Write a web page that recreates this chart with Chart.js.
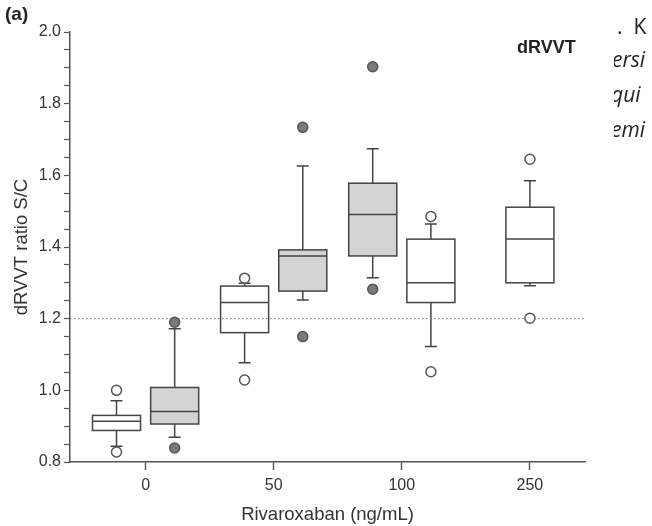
<!DOCTYPE html>
<html>
<head>
<meta charset="utf-8">
<script src="https://cdn.jsdelivr.net/npm/chart.js@4/dist/chart.umd.min.js"></script>
<style>
  body { margin: 0; background: #fff; }
  #wrap { position: relative; width: 652px; height: 526px; }
  #chart { position: absolute; left: 0; top: 0; }
  .lbl { position: absolute; font-family: "Liberation Sans", Arial, sans-serif; font-weight: bold; color: #222; white-space: nowrap; }
  #side { position: absolute; left: 614px; top: 0; width: 38px; height: 160px; overflow: hidden; font-family: "Open Sans", sans-serif; color: #222; }
  #side div { position: absolute; white-space: nowrap; font-size: 21px; }
</style>
</head>
<body>
<div id="wrap">
  <canvas id="chart" width="652" height="526"></canvas>
  <div class="lbl" style="left:5px;top:3px;font-size:19px;">(a)</div>
  <div class="lbl" style="left:517px;top:37px;font-size:18px;">dRVVT</div>
  <div id="side">
    <div style="left:3px;top:12px;">.&nbsp; K</div>
    <div style="left:-2px;top:45px;font-style:italic;">ersi</div>
    <div style="left:-3px;top:80px;font-style:italic;">qui</div>
    <div style="left:-3px;top:115px;font-style:italic;">emi</div>
  </div>
</div>
<script>
// rivaroxaban concentration groups (ng/mL)
const categories = ['0', '50', '100', '250'];

// open boxes: [lower whisker, Q1, median, Q3, upper whisker]
const openBoxes = [
  [0.844, 0.888, 0.914, 0.930, 0.971],
  [1.077, 1.161, 1.245, 1.291, 1.299],
  [1.122, 1.245, 1.300, 1.422, 1.464],
  [1.292, 1.300, 1.422, 1.511, 1.585]
];
const openOutliers = [
  [0.828, 1.000],
  [1.029, 1.313],
  [1.052, 1.485],
  [1.201, 1.645]
];

// grey boxes (no 250 group)
const greyBoxes = [
  [0.869, 0.906, 0.941, 1.008, 1.172],
  [1.252, 1.277, 1.375, 1.392, 1.626],
  [1.314, 1.375, 1.491, 1.578, 1.674]
];
const greyOutliers = [
  [0.839, 1.190],
  [1.150, 1.734],
  [1.282, 1.903]
];

const refLine = 1.2;

// layout: which side of the tick each box sits on
const openSlot = [-1, -1, 1, 0];
const greySlot = [1, 1, -1];
const slotShift = 0.227;
const boxWidth = 0.375;
const xMin = -0.59, xMax = 3.43;

function outlierPoints(list, slots) {
  const pts = [];
  list.forEach((vals, i) => {
    vals.forEach(v => pts.push({ x: i + slots[i] * slotShift, y: v }));
  });
  return pts;
}

const boxPlugin = {
  id: 'boxes',
  beforeDatasetsDraw(chart) {
    const { ctx, scales: { x, y } } = chart;
    const half = (x.getPixelForValue(boxWidth) - x.getPixelForValue(0)) / 2;
    const cap = 6;
    const drawSet = (stats, slots, fill) => {
      stats.forEach((s, i) => {
        const cx = x.getPixelForValue(i + slots[i] * slotShift);
        const [lo, q1, med, q3, hi] = s.map(v => y.getPixelForValue(v));
        ctx.save();
        ctx.strokeStyle = '#444';
        ctx.lineWidth = 1.5;
        // whiskers
        ctx.beginPath();
        ctx.moveTo(cx, q3); ctx.lineTo(cx, hi);
        ctx.moveTo(cx - cap, hi); ctx.lineTo(cx + cap, hi);
        ctx.moveTo(cx, q1); ctx.lineTo(cx, lo);
        ctx.moveTo(cx - cap, lo); ctx.lineTo(cx + cap, lo);
        ctx.stroke();
        // box
        ctx.fillStyle = fill;
        ctx.fillRect(cx - half, q3, half * 2, q1 - q3);
        ctx.strokeRect(cx - half, q3, half * 2, q1 - q3);
        // median
        ctx.beginPath();
        ctx.moveTo(cx - half, med); ctx.lineTo(cx + half, med);
        ctx.stroke();
        ctx.restore();
      });
    };
    drawSet(openBoxes, openSlot, 'rgba(255,255,255,0)');
    drawSet(greyBoxes, greySlot, '#d4d4d4');
  }
};

const font = { family: '"Liberation Sans", Arial, sans-serif', size: 16 };
const titleFont = { family: '"Liberation Sans", Arial, sans-serif', size: 18.5 };

new Chart(document.getElementById('chart'), {
  type: 'scatter',
  data: {
    datasets: [
      {
        type: 'line',
        data: [{ x: xMin, y: refLine }, { x: xMax, y: refLine }],
        borderColor: '#777',
        borderWidth: 1,
        borderDash: [1.5, 2.5],
        pointRadius: 0,
        order: 3
      },
      {
        data: outlierPoints(openOutliers, openSlot),
        pointRadius: 5,
        borderWidth: 1.5,
        borderColor: '#555',
        backgroundColor: '#fff',
        order: 1
      },
      {
        data: outlierPoints(greyOutliers, greySlot),
        pointRadius: 5,
        borderWidth: 1.5,
        borderColor: '#555',
        backgroundColor: '#7a7a7a',
        order: 1
      }
    ]
  },
  options: {
    responsive: false,
    animation: false,
    layout: { padding: { top: 32, right: 67, left: 0, bottom: 0 } },
    plugins: { legend: { display: false }, tooltip: { enabled: false } },
    scales: {
      x: {
        type: 'linear',
        min: xMin,
        max: xMax,
        afterBuildTicks: s => { s.ticks = categories.map((c, i) => ({ value: i })); },
        afterFit: s => { s.height = 64; },
        ticks: {
          callback: v => categories[v],
          font: font,
          color: '#333',
          padding: 6,
          maxRotation: 0
        },
        grid: { drawOnChartArea: false, tickLength: 8, tickColor: '#555', tickWidth: 1.5 },
        border: { color: '#555', width: 1.5 },
        title: { display: true, text: 'Rivaroxaban (ng/mL)', font: titleFont, color: '#333', padding: { top: 0, bottom: 0 } }
      },
      y: {
        min: 0.8,
        max: 2.0,
        afterFit: s => { s.width = 70; },
        ticks: {
          stepSize: 0.05,
          autoSkip: false,
          callback: v => Math.abs(v * 5 - Math.round(v * 5)) < 1e-6 ? v.toFixed(1) : '',
          font: font,
          color: '#333',
          padding: 3
        },
        grid: { drawOnChartArea: false, tickLength: 6, tickColor: '#555', tickWidth: 1.2 },
        border: { color: '#555', width: 1.5 },
        title: { display: true, text: 'dRVVT ratio S/C', font: titleFont, color: '#333', padding: { top: 11, bottom: 0 } }
      }
    }
  },
  plugins: [boxPlugin]
});
</script>
</body>
</html>
